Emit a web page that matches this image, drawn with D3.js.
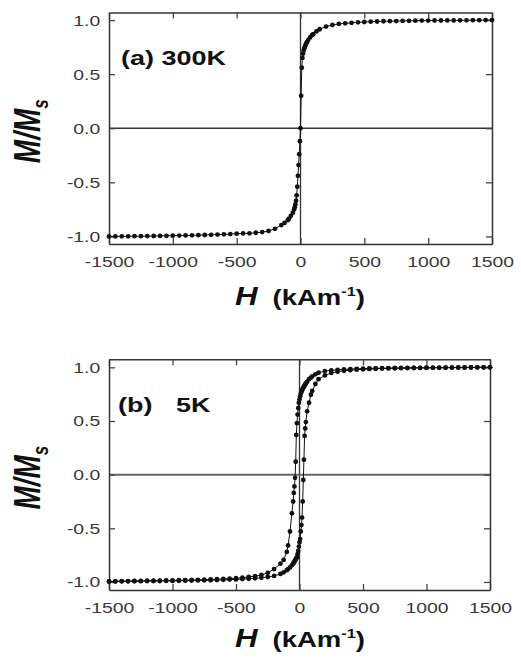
<!DOCTYPE html>
<html>
<head>
<meta charset="utf-8">
<script src="https://cdn.jsdelivr.net/npm/d3@7"></script>
<style>
  body { margin: 0; background: #fff; }
</style>
</head>
<body>
<svg id="svg" width="521" height="660"></svg>
<script>
const svg = d3.select("#svg");

// applied field H (kA/m), shared by all three series
const fields = [-1500, -1450, -1400, -1350, -1300, -1250, -1200, -1150, -1100, -1050, -1000, -950, -900, -850, -800, -750, -700, -650, -600, -550, -500, -450, -400, -350, -300, -250, -200, -150, -125, -100, -90, -75, -60, -50, -45, -40, -35, -30, -25, -20, -15, -10, -5, 0, 5, 10, 15, 20, 25, 30, 35, 40, 45, 50, 60, 75, 90, 100, 125, 150, 200, 250, 300, 350, 400, 450, 500, 550, 600, 650, 700, 750, 800, 850, 900, 950, 1000, 1050, 1100, 1150, 1200, 1250, 1300, 1350, 1400, 1450, 1500];

// M/Ms at 300 K
const m300 = [-1.0, -1.0, -0.999, -0.999, -0.998, -0.998, -0.997, -0.996, -0.995, -0.994, -0.993, -0.992, -0.991, -0.99, -0.988, -0.987, -0.985, -0.983, -0.981, -0.978, -0.975, -0.972, -0.971, -0.966, -0.96, -0.95, -0.93, -0.895, -0.875, -0.85, -0.835, -0.81, -0.78, -0.75, -0.73, -0.705, -0.67, -0.62, -0.54, -0.44, -0.34, -0.24, -0.12, 0.0, 0.3, 0.56, 0.65, 0.69, 0.72, 0.74, 0.755, 0.77, 0.785, 0.795, 0.815, 0.84, 0.86, 0.87, 0.895, 0.915, 0.94, 0.955, 0.964, 0.97, 0.975, 0.979, 0.982, 0.985, 0.987, 0.989, 0.99, 0.991, 0.992, 0.993, 0.994, 0.995, 0.995, 0.996, 0.996, 0.997, 0.997, 0.998, 0.998, 0.999, 0.999, 1.0, 1.0];

// M/Ms at 5 K, field decreasing branch
const m5Down = [-0.995, -0.994, -0.993, -0.992, -0.991, -0.99, -0.989, -0.988, -0.987, -0.986, -0.985, -0.984, -0.983, -0.982, -0.98, -0.979, -0.977, -0.975, -0.972, -0.969, -0.965, -0.96, -0.954, -0.946, -0.935, -0.915, -0.88, -0.83, -0.795, -0.72, -0.66, -0.53, -0.36, -0.25, -0.17, -0.11, -0.03, 0.12, 0.37, 0.48, 0.56, 0.62, 0.67, 0.70, 0.73, 0.755, 0.77, 0.785, 0.80, 0.81, 0.82, 0.83, 0.84, 0.85, 0.865, 0.89, 0.905, 0.915, 0.935, 0.95, 0.965, 0.972, 0.977, 0.981, 0.984, 0.986, 0.988, 0.99, 0.991, 0.992, 0.993, 0.994, 0.995, 0.995, 0.996, 0.996, 0.997, 0.997, 0.998, 0.998, 0.998, 0.999, 0.999, 0.999, 1.0, 1.0, 1.0];

// M/Ms at 5 K, field increasing branch
const m5Up = [-0.995, -0.995, -0.994, -0.994, -0.993, -0.993, -0.992, -0.992, -0.991, -0.99, -0.99, -0.989, -0.988, -0.987, -0.986, -0.985, -0.984, -0.982, -0.98, -0.978, -0.976, -0.973, -0.97, -0.966, -0.961, -0.954, -0.944, -0.925, -0.91, -0.89, -0.88, -0.865, -0.845, -0.83, -0.82, -0.81, -0.80, -0.79, -0.78, -0.77, -0.74, -0.71, -0.67, -0.63, -0.60, -0.53, -0.47, -0.40, -0.25, -0.05, 0.14, 0.36, 0.43, 0.49, 0.59, 0.67, 0.745, 0.78, 0.845, 0.89, 0.925, 0.948, 0.96, 0.968, 0.974, 0.978, 0.982, 0.985, 0.987, 0.989, 0.99, 0.991, 0.992, 0.993, 0.994, 0.995, 0.995, 0.996, 0.996, 0.997, 0.997, 0.998, 0.998, 0.999, 0.999, 1.0, 1.0];

const xTicks = [-1500, -1000, -500, 0, 500, 1000, 1500];
const yTicks = [-1.0, -0.5, 0.0, 0.5, 1.0];

const STRETCH = 1.25;
const FONT = "'Liberation Sans', Arial, sans-serif";

const panels = [
  { top: 12.5, bottom: 244, left: 109, right: 492, ymax: 1.07,
    series: [m300], label: [["(a) 300K", 121]], titleY: 305,
    zeroColor: "#333", zeroWidth: 1.3 },
  { top: 359.3, bottom: 590, left: 109, right: 490, ymax: 1.075,
    series: [m5Down, m5Up], label: [["(b)", 118], ["5K", 176]], titleY: 647,
    zeroColor: "#666", zeroWidth: 2 },
];

function drawPanel(p) {
  const g = svg.append("g");
  const x = d3.scaleLinear().domain([-1500, 1500]).range([p.left, p.right]);
  const y = d3.scaleLinear().domain([-p.ymax, p.ymax]).range([p.bottom, p.top]);

  // zero lines
  g.append("line")
    .attr("x1", x(0)).attr("x2", x(0))
    .attr("y1", p.top).attr("y2", p.bottom)
    .attr("stroke", "#333").attr("stroke-width", 1.3);
  g.append("line")
    .attr("x1", p.left).attr("x2", p.right)
    .attr("y1", y(0)).attr("y2", y(0))
    .attr("stroke", p.zeroColor).attr("stroke-width", p.zeroWidth);

  const axes = [
    [d3.axisBottom(x).tickValues(xTicks).tickFormat((d) => String(d)).tickPadding(12), `translate(0,${p.bottom})`],
    [d3.axisTop(x).tickValues(xTicks).tickFormat(""), `translate(0,${p.top})`],
    [d3.axisLeft(y).tickValues(yTicks).tickFormat((d) => d.toFixed(1)).tickPadding(7), `translate(${p.left},0)`],
    [d3.axisRight(y).tickValues(yTicks).tickFormat(""), `translate(${p.right},0)`],
  ];
  for (const [axis, tr] of axes) {
    const a = g.append("g")
      .attr("transform", tr)
      .call(axis.tickSize(-6).tickSizeOuter(0));
    a.attr("font-family", FONT).attr("font-size", 15.5);
    a.select(".domain").attr("stroke", "#333").attr("stroke-width", 1.5);
    a.selectAll(".tick line").attr("stroke", "#444").attr("stroke-width", 1.3);
    a.selectAll(".tick text").attr("fill", "#383838").attr("transform", `scale(${STRETCH},1)`);
  }

  // curves
  const line = d3.line().x((d) => x(d[0])).y((d) => y(d[1]));
  for (const s of p.series) {
    const pts = fields.map((h, i) => [h, s[i]]);
    g.append("path")
      .datum(pts)
      .attr("d", line)
      .attr("fill", "none")
      .attr("stroke", "#111")
      .attr("stroke-width", 1);
    g.selectAll(null)
      .data(pts)
      .join("circle")
      .attr("cx", (d) => x(d[0]))
      .attr("cy", (d) => y(d[1]))
      .attr("r", 2.4)
      .attr("fill", "#111");
  }

  // panel label
  for (const [txt, lx] of p.label) {
    g.append("text")
      .attr("transform", `translate(${lx},${p.top + 52.5}) scale(1.35,1)`)
      .attr("font-family", FONT)
      .attr("font-weight", "bold")
      .attr("font-size", 20)
      .attr("fill", "#111")
      .text(txt);
  }

  // y title
  const yt = g.append("text")
    .attr("transform", `translate(40,${y(0) + 3}) scale(1.3,1) rotate(-90)`)
    .attr("text-anchor", "middle")
    .attr("font-family", FONT)
    .attr("font-weight", "bold")
    .attr("font-style", "italic")
    .attr("font-size", 28)
    .attr("fill", "#111");
  yt.append("tspan").text("M/M");
  yt.append("tspan").attr("font-size", 17).attr("dy", 6).text("s");

  // x title
  const xt = g.append("g")
    .attr("transform", `translate(235,${p.titleY}) scale(1.25,1)`)
    .attr("font-family", FONT)
    .attr("font-weight", "bold")
    .attr("fill", "#111");
  xt.append("text").attr("font-style", "italic").attr("font-size", 25).text("H");
  const unit = xt.append("text").attr("x", 30).attr("font-size", 22);
  unit.append("tspan").text("(kAm");
  unit.append("tspan").attr("font-size", 13).attr("dy", -9).text("-1");
  unit.append("tspan").attr("dy", 9).text(")");
}

panels.forEach(drawPanel);
</script>
</body>
</html>
